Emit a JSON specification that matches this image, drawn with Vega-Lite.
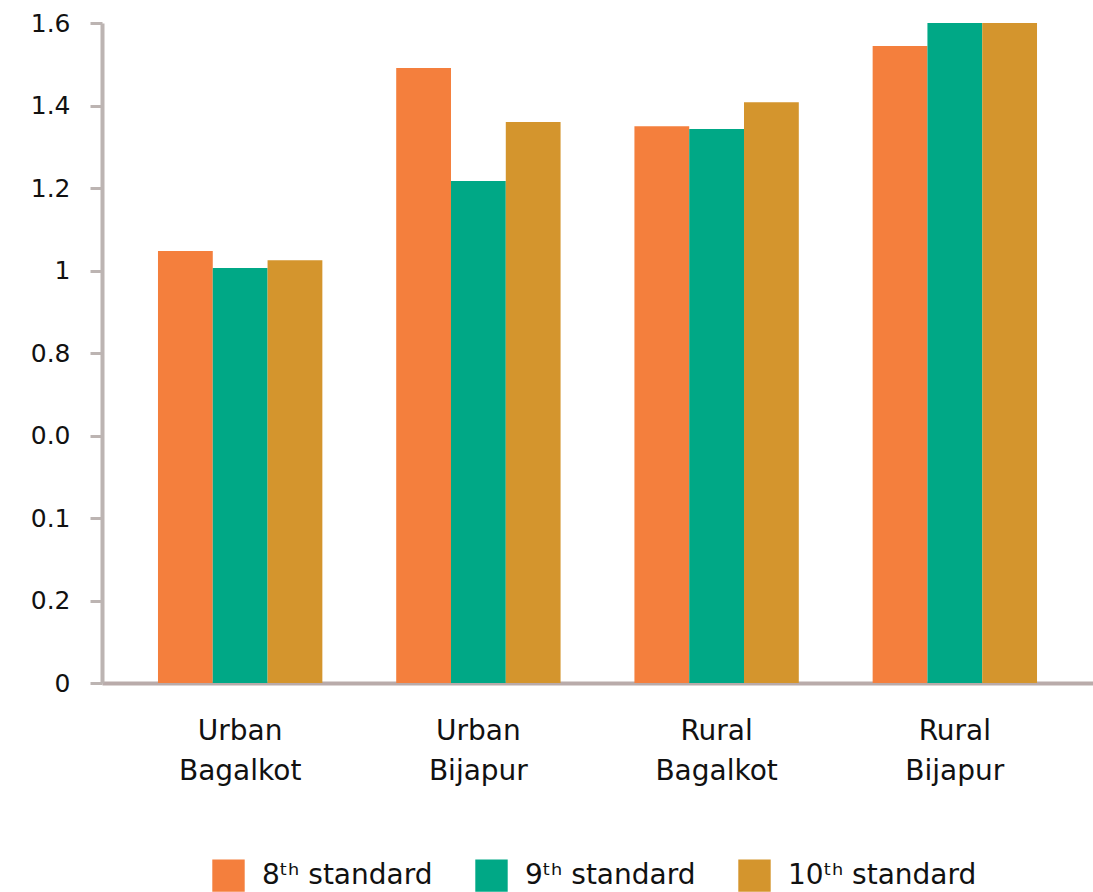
{
  "$schema": "https://vega.github.io/schema/vega-lite/v6.json",
  "autosize": "none",
  "width": 991,
  "height": 660,
  "padding": {"left": 102, "top": 23, "right": 0, "bottom": 209},
  "background": "white",
  "data": {
    "values": [
      {"area": "Urban Bagalkot", "std": "8ᵗʰ standard", "value": 1.047},
      {"area": "Urban Bagalkot", "std": "9ᵗʰ standard", "value": 1.006},
      {"area": "Urban Bagalkot", "std": "10ᵗʰ standard", "value": 1.025},
      {"area": "Urban Bijapur", "std": "8ᵗʰ standard", "value": 1.491},
      {"area": "Urban Bijapur", "std": "9ᵗʰ standard", "value": 1.217},
      {"area": "Urban Bijapur", "std": "10ᵗʰ standard", "value": 1.36},
      {"area": "Rural Bagalkot", "std": "8ᵗʰ standard", "value": 1.35},
      {"area": "Rural Bagalkot", "std": "9ᵗʰ standard", "value": 1.343},
      {"area": "Rural Bagalkot", "std": "10ᵗʰ standard", "value": 1.408},
      {"area": "Rural Bijapur", "std": "8ᵗʰ standard", "value": 1.544},
      {"area": "Rural Bijapur", "std": "9ᵗʰ standard", "value": 1.6},
      {"area": "Rural Bijapur", "std": "10ᵗʰ standard", "value": 1.6}
    ]
  },
  "mark": {"type": "bar", "clip": true},
  "encoding": {
    "x": {
      "field": "area",
      "type": "nominal",
      "sort": ["Urban Bagalkot", "Urban Bijapur", "Rural Bagalkot", "Rural Bijapur"],
      "scale": {"paddingInner": 0.31, "paddingOuter": 0.235},
      "axis": {
        "title": null,
        "labelAngle": 0,
        "labelExpr": "split(datum.label, ' ')",
        "labelFont": "DejaVu Sans",
        "labelFontSize": 28,
        "labelColor": "#111111",
        "labelLineHeight": 40,
        "labelPadding": 34,
        "labelBaseline": "top",
        "ticks": false,
        "domainColor": "#b9abaa",
        "domainWidth": 4
      }
    },
    "xOffset": {
      "field": "std",
      "type": "nominal",
      "sort": ["8ᵗʰ standard", "9ᵗʰ standard", "10ᵗʰ standard"],
      "scale": {"paddingInner": 0, "paddingOuter": 0}
    },
    "y": {
      "field": "value",
      "type": "quantitative",
      "scale": {"domain": [0, 1.6], "nice": false, "clamp": true},
      "axis": {
        "title": null,
        "grid": false,
        "values": [0, 0.2, 0.4, 0.6, 0.8, 1, 1.2, 1.4, 1.6],
        "labelExpr": "datum.value == 0.4 ? '0.1' : datum.value == 0.6 ? '0.0' : '' + datum.value",
        "labelFont": "DejaVu Sans",
        "labelFontSize": 25,
        "labelColor": "#111111",
        "labelPadding": 20,
        "tickSize": 12,
        "tickWidth": 3,
        "tickColor": "#bcb4b2",
        "domainColor": "#bcb4b2",
        "domainWidth": 4
      }
    },
    "color": {
      "field": "std",
      "type": "nominal",
      "sort": ["8ᵗʰ standard", "9ᵗʰ standard", "10ᵗʰ standard"],
      "scale": {
        "domain": ["8ᵗʰ standard", "9ᵗʰ standard", "10ᵗʰ standard"],
        "range": ["#F47F3D", "#00A886", "#D4952D"]
      },
      "legend": {
        "title": null,
        "orient": "none",
        "direction": "horizontal",
        "legendX": 110,
        "legendY": 836,
        "symbolType": "square",
        "symbolSize": 1050,
        "symbolStrokeWidth": 0,
        "symbolOpacity": 1,
        "labelFont": "DejaVu Sans",
        "labelFontSize": 28,
        "labelColor": "#111111",
        "labelOffset": 17,
        "labelLimit": 0,
        "columnPadding": 42
      }
    }
  },
  "config": {"view": {"stroke": null}}
}
